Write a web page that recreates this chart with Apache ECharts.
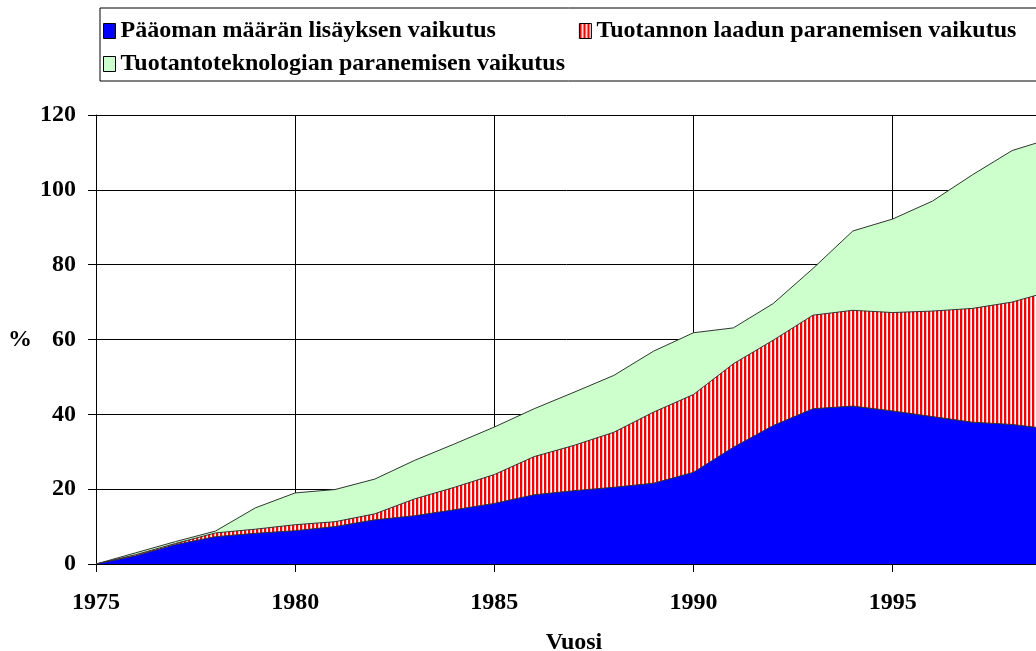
<!DOCTYPE html>
<html>
<head>
<meta charset="utf-8">
<script src="https://cdn.jsdelivr.net/npm/echarts@6/dist/echarts.min.js"></script>
<style>
  html, body { margin: 0; padding: 0; background: #fff; }
  #main { width: 1036px; height: 651px; }
</style>
</head>
<body>
<div id="main"></div>
<script>
// vuodet ja kerrosten paksuudet (%)
var years = [1975,1976,1977,1978,1979,1980,1981,1982,1983,1984,1985,1986,1987,
             1988,1989,1990,1991,1992,1993,1994,1995,1996,1997,1998,1999];
var paaoma = [0,2.2,5.2,7.3,8.2,8.9,10.0,11.8,12.9,14.5,16.2,18.5,19.6,
              20.5,21.6,24.5,31.2,37.0,41.5,42.2,40.9,39.4,37.9,37.3,36.0];
var laatu = [0,0.3,0.3,1.0,1.1,1.6,1.3,1.6,4.5,6.0,7.7,10.2,12.1,
             14.7,19.0,20.8,22.3,22.8,25.0,25.6,26.3,28.2,30.4,32.7,37.0];
var teknologia = [0,0.5,0.5,0.5,5.7,8.5,8.6,9.3,10.3,11.6,12.7,12.8,14.2,
                  15.2,16.3,16.5,9.6,9.8,12.5,21.2,25.0,29.4,35.7,40.5,40.8];
var yTicks = [0,20,40,60,80,100,120];
var names = ['Pääoman määrän lisäyksen vaikutus',
             'Tuotannon laadun paranemisen vaikutus',
             'Tuotantoteknologian paranemisen vaikutus'];

// kasautetut summat (pinoaminen ei toimi arvoakselilla, joten lasketaan itse)
function cumulative(layers) {
  return years.map(function (y, i) {
    var s = 0;
    layers.forEach(function (l) { s += l[i]; });
    return [y, +s.toFixed(2)];
  });
}

// punavalkoinen pystyraidoitus
var stripe = document.createElement('canvas');
stripe.width = 4; stripe.height = 4;
var ctx = stripe.getContext('2d');
ctx.fillStyle = '#ffffff'; ctx.fillRect(0, 0, 4, 4);
ctx.fillStyle = '#ff0000'; ctx.fillRect(0, 0, 2, 4);
ctx.fillStyle = '#ffb4b4'; ctx.fillRect(2, 0, 1, 4);
var stripeFill = { image: stripe, repeat: 'repeat' };

var font = '"Liberation Serif", "Times New Roman", serif';
var txt = { fontFamily: font, fontWeight: 'bold', fontSize: 24, color: '#000' };

var myChart = echarts.init(document.getElementById('main'));

function area(name, layers, fill, z) {
  return {
    name: name, type: 'line', symbol: 'none', z: z,
    data: cumulative(layers),
    itemStyle: { color: fill },
    lineStyle: { color: '#333', width: 1 },
    areaStyle: { color: fill, opacity: 1 }
  };
}

var option = {
  animation: false,
  backgroundColor: '#fff',
  graphic: [{
    type: 'rect',
    shape: { x: 100, y: 8, width: 1000, height: 73 },
    style: { fill: 'none', stroke: '#000', lineWidth: 1 },
    silent: true
  }],
  legend: [{
    data: [names[0], names[1]],
    left: 103, top: 19, padding: 0,
    itemGap: 83, itemWidth: 12, itemHeight: 15,
    icon: 'rect',
    itemStyle: { borderColor: '#000', borderWidth: 1 },
    textStyle: txt
  }, {
    data: [names[2]],
    left: 103, top: 52, padding: 0,
    itemWidth: 12, itemHeight: 15,
    icon: 'rect',
    itemStyle: { borderColor: '#000', borderWidth: 1 },
    textStyle: txt
  }],
  grid: { left: 96, width: 956, top: 115, bottom: 87, outerBoundsMode: 'none' },
  xAxis: {
    type: 'value',
    min: 1975, max: 1999, interval: 5,
    name: 'Vuosi', nameLocation: 'middle', nameGap: 67,
    nameTextStyle: txt,
    axisLine: { show: true, lineStyle: { color: '#000', width: 1 } },
    axisTick: { show: true, length: 8, lineStyle: { color: '#000' } },
    axisLabel: Object.assign({
      margin: 27,
      formatter: function (v) { return v % 5 === 0 ? String(v) : ''; }
    }, txt),
    splitLine: { show: true, lineStyle: { color: '#000', width: 1 } }
  },
  yAxis: {
    type: 'value',
    min: 0, max: yTicks[yTicks.length - 1], interval: 20,
    name: '%', nameLocation: 'middle', nameGap: 64, nameRotate: 0,
    nameTextStyle: txt,
    axisLine: { show: true, lineStyle: { color: '#000', width: 1 } },
    axisTick: { show: true, length: 8, lineStyle: { color: '#000' } },
    axisLabel: Object.assign({ margin: 20 }, txt),
    splitLine: { show: true, lineStyle: { color: '#000', width: 1 } }
  },
  // piirretään ylin summa ensin, alimmat päälle
  series: [
    area(names[0], [paaoma], '#0000ff', 4),
    area(names[1], [paaoma, laatu], stripeFill, 3),
    area(names[2], [paaoma, laatu, teknologia], '#ccffcc', 2)
  ]
};

myChart.setOption(option);
</script>
</body>
</html>
